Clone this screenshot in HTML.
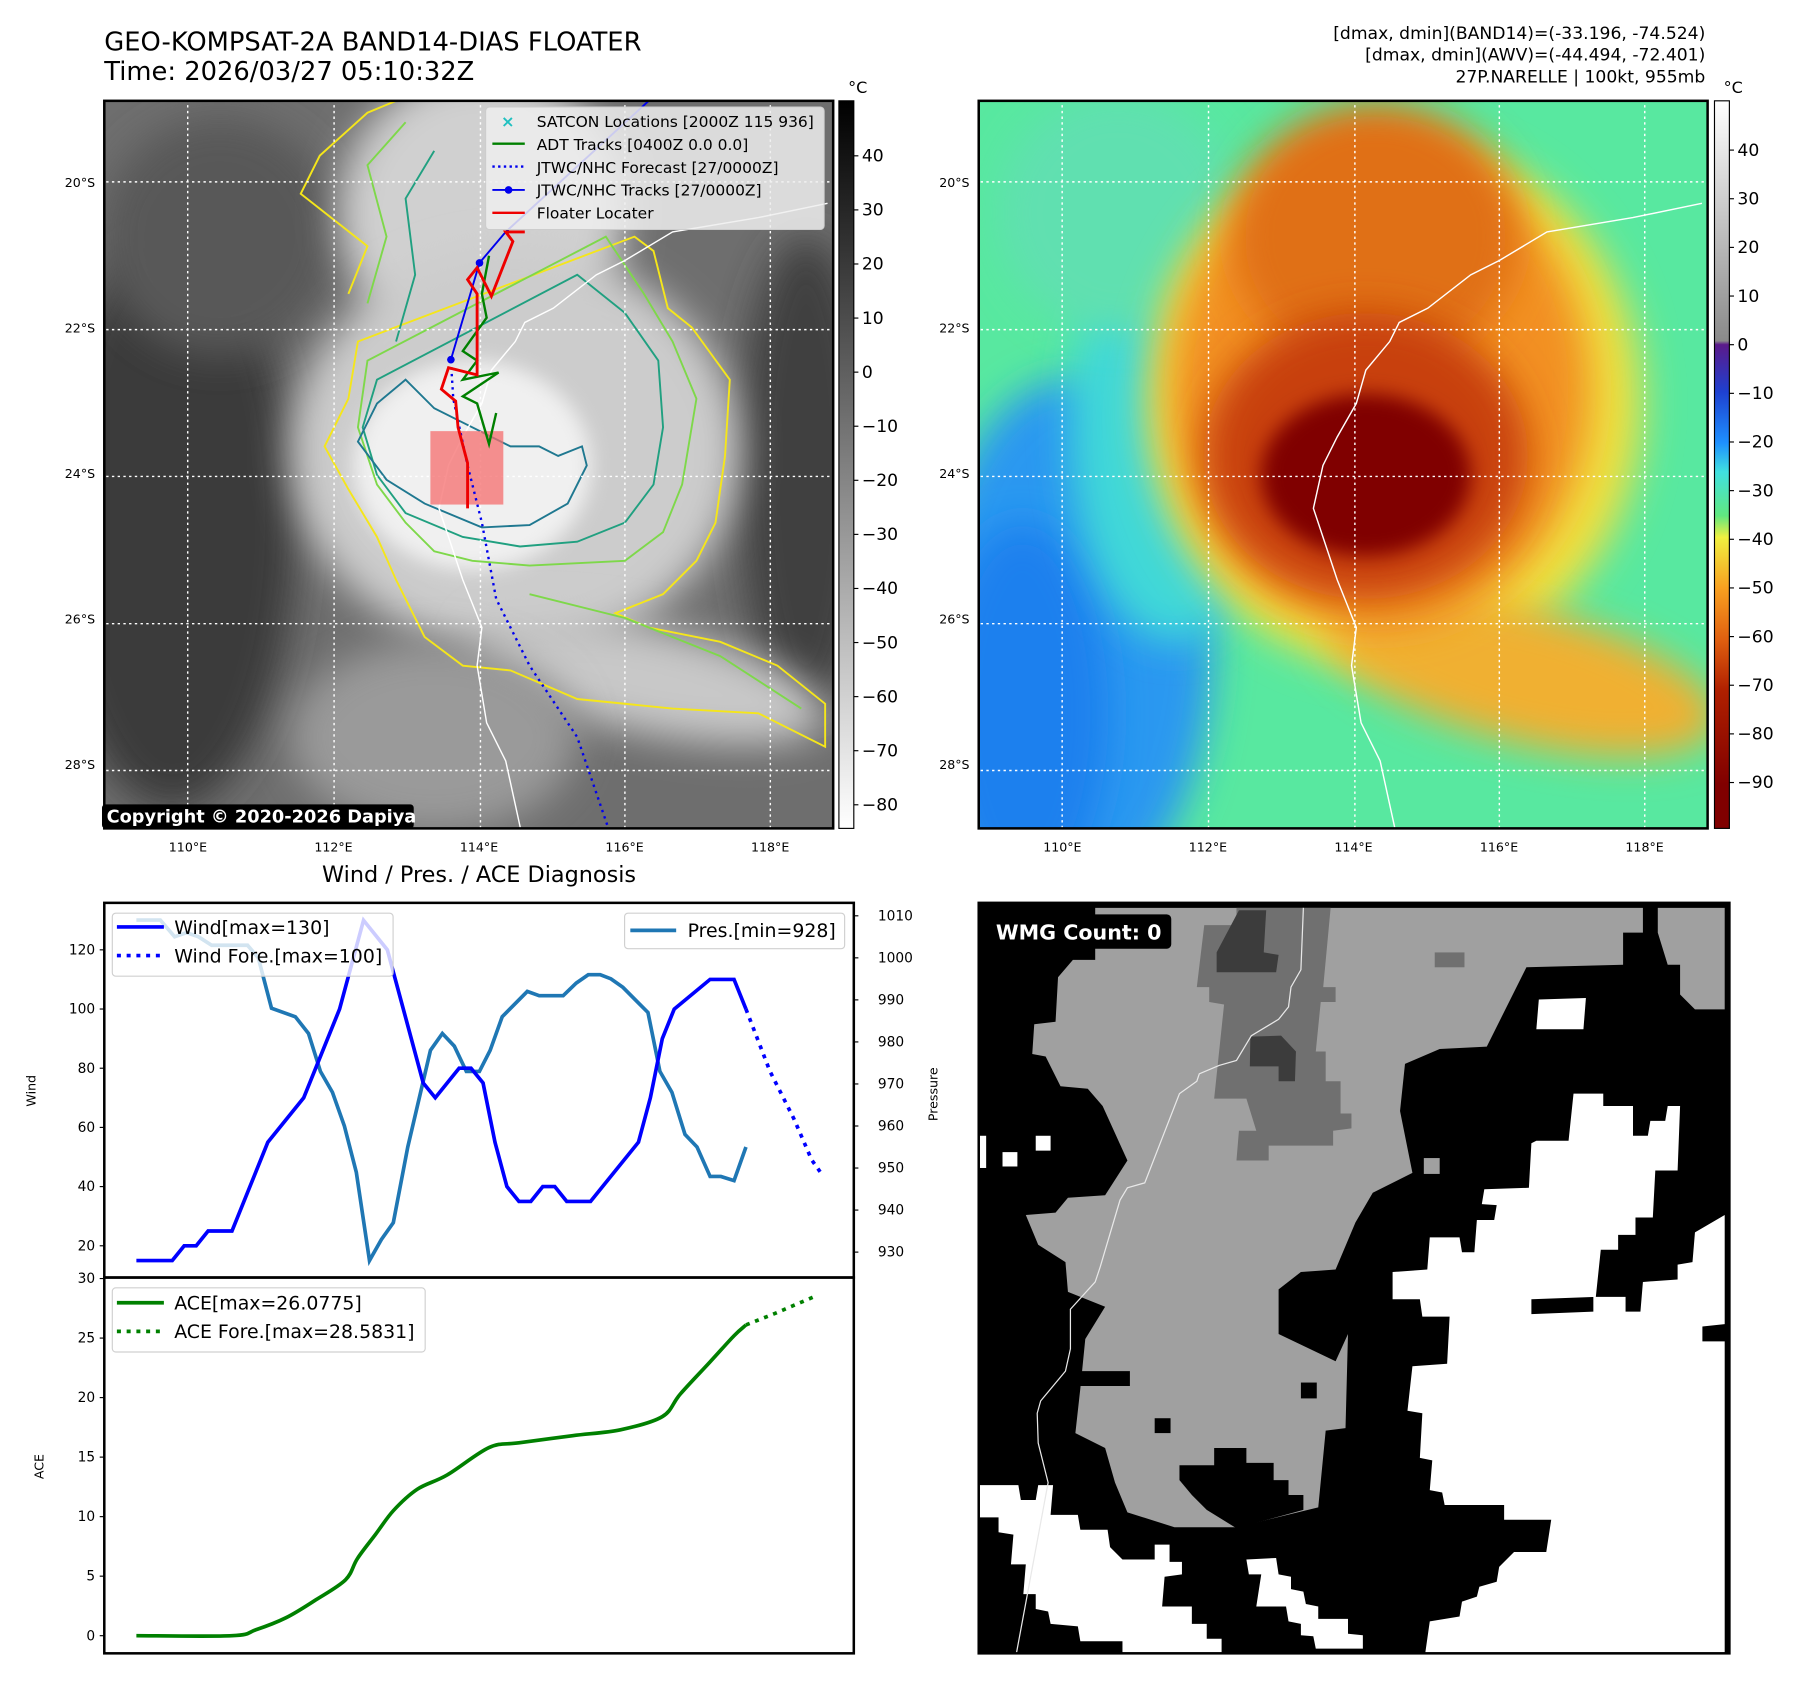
<!DOCTYPE html>
<html><head><meta charset="utf-8"><title>GEO-KOMPSAT-2A BAND14 Floater</title>
<style>
html,body{margin:0;padding:0;background:#fff;}
svg{display:block;font-family:"DejaVu Sans","Liberation Sans",sans-serif;}
</style></head>
<body>
<svg id="fig" width="1797" height="1690" viewBox="0 0 1568 1475" preserveAspectRatio="none" xmlns="http://www.w3.org/2000/svg">
<defs>
  <filter id="b20" x="-50%" y="-50%" width="200%" height="200%"><feGaussianBlur stdDeviation="20"/></filter>
  <filter id="b40" x="-50%" y="-50%" width="200%" height="200%"><feGaussianBlur stdDeviation="40"/></filter>
  <clipPath id="clipL"><rect x="91" y="88" width="636" height="635"/></clipPath>
  <clipPath id="clipR"><rect x="854" y="88" width="636" height="635"/></clipPath>
  <clipPath id="clipB"><rect x="854" y="788" width="655" height="655"/></clipPath>
  <linearGradient id="cbL" x1="0" y1="0" x2="0" y2="1">
    <stop offset="0" stop-color="#000"/><stop offset="1" stop-color="#fff"/>
  </linearGradient>
  <linearGradient id="cbR" x1="0" y1="0" x2="0" y2="1">
    <stop offset="0" stop-color="#ffffff"/><stop offset="0.33" stop-color="#8a8a8a"/>
    <stop offset="0.335" stop-color="#5b1a8a"/><stop offset="0.4" stop-color="#1e40d0"/>
    <stop offset="0.47" stop-color="#1e90ff"/><stop offset="0.51" stop-color="#40e0e0"/>
    <stop offset="0.57" stop-color="#60e880"/><stop offset="0.6" stop-color="#f0f040"/>
    <stop offset="0.67" stop-color="#f8a020"/><stop offset="0.74" stop-color="#e06010"/>
    <stop offset="0.81" stop-color="#b02000"/><stop offset="0.94" stop-color="#800000"/>
    <stop offset="1" stop-color="#800000"/>
  </linearGradient>
</defs>

<text x="91" y="44" font-size="22.5">GEO-KOMPSAT-2A BAND14-DIAS FLOATER</text>
<text x="91" y="70" font-size="22.5">Time: 2026/03/27 05:10:32Z</text>
<g font-size="15" text-anchor="end">
  <text x="1488" y="34">[dmax, dmin](BAND14)=(-33.196, -74.524)</text>
  <text x="1488" y="53">[dmax, dmin](AWV)=(-44.494, -72.401)</text>
  <text x="1488" y="72">27P.NARELLE | 100kt, 955mb</text>
</g>

<!-- LEFT MAP -->
<g clip-path="url(#clipL)">
  <rect x="91" y="88" width="636" height="635" fill="#6e6e6e"/>
  <g transform="translate(91,88) scale(0.416) translate(-8,-15)">
    <ellipse cx="150" cy="900" rx="260" ry="600" fill="#3a3a3a" filter="url(#b40)"/>
    <ellipse cx="1480" cy="800" rx="140" ry="500" fill="#404040" filter="url(#b40)"/>
    <ellipse cx="250" cy="300" rx="250" ry="250" fill="#585858" filter="url(#b40)"/>
    <ellipse cx="800" cy="250" rx="300" ry="300" fill="#d0d0d0" filter="url(#b40)"/>
    <ellipse cx="870" cy="750" rx="470" ry="420" fill="#cccccc" filter="url(#b40)"/>
    <ellipse cx="1150" cy="1230" rx="380" ry="110" fill="#c8c8c8" filter="url(#b40)" transform="rotate(12 1150 1230)"/>
    <ellipse cx="780" cy="780" rx="250" ry="220" fill="#f0f0f0" filter="url(#b20)"/>
    <ellipse cx="700" cy="1350" rx="300" ry="200" fill="#9a9a9a" filter="url(#b40)"/>
    <path d="M520,420 L560,320 L420,210 L460,130 L560,40 L620,15 M1120,300 L1160,330 L1190,450 L1240,490 L1320,600 L1310,760 L1290,900 L1250,980 L1180,1050 L1080,1090 L1150,1120 L1300,1150 L1420,1200 L1520,1280 L1520,1370 L1380,1300 L1200,1290 L1000,1270 L860,1210 L760,1200 L680,1140 L620,1020 L580,930 L520,830 L470,740 L520,640 L540,520 Z" fill="none" stroke="#f5e61a" stroke-width="4"/>
    <path d="M560,440 L600,300 L560,150 L640,60 M1060,300 L1140,420 L1200,520 L1250,640 L1220,820 L1180,920 L1100,980 L900,990 L780,980 L700,960 L640,900 L580,820 L540,700 L560,560 Z M900,1050 L1100,1100 L1300,1180 L1470,1290" fill="none" stroke="#7ed84a" stroke-width="4"/>
    <path d="M620,520 L660,380 L640,220 L700,120 M1000,380 L1100,460 L1170,560 L1180,700 L1160,820 L1100,900 L1000,940 L880,950 L760,930 L640,880 L580,800 L550,700 L580,600 Z" fill="none" stroke="#20a080" stroke-width="4"/>
    <path d="M640,600 L580,650 L540,730 L600,810 L680,860 L800,910 L900,905 L980,860 L1020,780 L1010,740 L960,760 L920,740 L860,740 L820,720 L760,690 L700,660 Z" fill="none" stroke="#1f7890" stroke-width="4"/>
    <g stroke="#fff" stroke-width="3" stroke-dasharray="5,7">
      <line x1="183" y1="0" x2="183" y2="1570"/><line x1="490" y1="0" x2="490" y2="1570"/>
      <line x1="797" y1="0" x2="797" y2="1570"/><line x1="1100" y1="0" x2="1100" y2="1570"/>
      <line x1="1405" y1="0" x2="1405" y2="1570"/>
      <line x1="0" y1="185" x2="1540" y2="185"/><line x1="0" y1="495" x2="1540" y2="495"/>
      <line x1="0" y1="803" x2="1540" y2="803"/><line x1="0" y1="1112" x2="1540" y2="1112"/>
      <line x1="0" y1="1420" x2="1540" y2="1420"/>
    </g>
    <polyline points="1525,230 1380,260 1200,290 1100,350 1040,380 950,450 890,480 870,520 820,580 800,650 760,720 730,780 710,870 740,960 760,1020 800,1120 790,1200 810,1320 850,1400 885,1560" fill="none" stroke="#fff" stroke-width="3"/>
    <rect x="692" y="708" width="153" height="154" fill="rgba(245,110,110,0.75)"/>
    <polyline points="735,560 740,640 770,780 800,900 830,1060 900,1200 1000,1350 1070,1555" fill="none" stroke="#0000ee" stroke-width="5" stroke-dasharray="5,9"/>
    <polyline points="735,558 795,355 850,290 1150,15" fill="none" stroke="#0000ee" stroke-width="4"/>
    <circle cx="735" cy="558" r="8" fill="#0000ee"/><circle cx="795" cy="355" r="8" fill="#0000ee"/>
    <polyline points="815,340 800,420 810,470 760,540 790,560 760,600 835,585 760,635 790,650 815,735 830,670" fill="none" stroke="#008000" stroke-width="5"/>
    <polyline points="890,290 850,290 865,310 820,425 790,365 770,390 790,420 790,590 730,575 715,620 745,645 750,700 770,775 770,870" fill="none" stroke="#ee0000" stroke-width="6"/>
    <g>
      <rect x="808" y="28" width="710" height="257" rx="8" fill="#eeeeee" fill-opacity="0.85" stroke="#ccc" stroke-width="2"/>
      <text x="840" y="70" font-size="34" fill="#20c0c0" font-weight="bold">×</text>
      <line x1="822" y1="105" x2="890" y2="105" stroke="#008000" stroke-width="5"/>
      <line x1="822" y1="153" x2="890" y2="153" stroke="#0000ee" stroke-width="5" stroke-dasharray="5,7"/>
      <line x1="822" y1="202" x2="890" y2="202" stroke="#0000ee" stroke-width="4"/><circle cx="856" cy="202" r="8" fill="#0000ee"/>
      <line x1="822" y1="250" x2="890" y2="250" stroke="#ee0000" stroke-width="5"/>
      <g font-size="32.5" fill="#000">
        <text x="915" y="70">SATCON Locations [2000Z 115 936]</text>
        <text x="915" y="118">ADT Tracks [0400Z 0.0 0.0]</text>
        <text x="915" y="166">JTWC/NHC Forecast [27/0000Z]</text>
        <text x="915" y="214">JTWC/NHC Tracks [27/0000Z]</text>
        <text x="915" y="262">Floater Locater</text>
      </g>
    </g>
  </g>
</g>
<rect x="91" y="88" width="636" height="635" fill="none" stroke="#000" stroke-width="2.2"/>
<g>
  <rect x="89" y="702" width="272" height="21" rx="3" fill="#000"/>
  <text x="93" y="718" font-size="15.5" font-weight="bold" fill="#fff">Copyright © 2020-2026 Dapiya</text>
</g>

<g>
  <rect x="732" y="88" width="13" height="635" fill="url(#cbL)" stroke="#000" stroke-width="1"/>
  <text x="740" y="81" font-size="14">°C</text>
  <g id="cbLticks" font-size="15"></g>
</g>

<!-- RIGHT MAP -->
<g clip-path="url(#clipR)">
  <rect x="854" y="88" width="636" height="635" fill="#58e8a0"/>
  <g transform="translate(854,88) scale(0.416) translate(-8,-15)">
    <ellipse cx="200" cy="1150" rx="300" ry="550" fill="#2c98f0" filter="url(#b40)"/>
    <ellipse cx="100" cy="1300" rx="180" ry="400" fill="#1a80ee" filter="url(#b40)"/>
    <ellipse cx="420" cy="700" rx="220" ry="450" fill="#40d8d8" filter="url(#b40)"/>
    <ellipse cx="300" cy="250" rx="250" ry="250" fill="#60e0b0" filter="url(#b40)"/>
    <ellipse cx="880" cy="650" rx="520" ry="560" fill="#f0e040" filter="url(#b40)"/>
    <ellipse cx="1150" cy="1220" rx="420" ry="140" fill="#f0b030" filter="url(#b40)" transform="rotate(14 1150 1220)"/>
    <ellipse cx="850" cy="620" rx="440" ry="500" fill="#f29020" filter="url(#b40)"/>
    <ellipse cx="840" cy="300" rx="300" ry="280" fill="#e07018" filter="url(#b40)"/>
    <ellipse cx="820" cy="760" rx="340" ry="300" fill="#c84010" filter="url(#b40)"/>
    <ellipse cx="820" cy="800" rx="220" ry="170" fill="#800000" filter="url(#b20)"/>
    <g stroke="#fff" stroke-width="3" stroke-dasharray="5,7">
      <line x1="183" y1="0" x2="183" y2="1570"/><line x1="490" y1="0" x2="490" y2="1570"/>
      <line x1="797" y1="0" x2="797" y2="1570"/><line x1="1100" y1="0" x2="1100" y2="1570"/>
      <line x1="1405" y1="0" x2="1405" y2="1570"/>
      <line x1="0" y1="185" x2="1540" y2="185"/><line x1="0" y1="495" x2="1540" y2="495"/>
      <line x1="0" y1="803" x2="1540" y2="803"/><line x1="0" y1="1112" x2="1540" y2="1112"/>
      <line x1="0" y1="1420" x2="1540" y2="1420"/>
    </g>
    <polyline points="1525,230 1380,260 1200,290 1100,350 1040,380 950,450 890,480 870,520 820,580 800,650 760,720 730,780 710,870 740,960 760,1020 800,1120 790,1200 810,1320 850,1400 885,1560" fill="none" stroke="#fff" stroke-width="3"/>
  </g>
</g>
<rect x="854" y="88" width="636" height="635" fill="none" stroke="#000" stroke-width="2.2"/>
<g>
  <rect x="1496" y="88" width="13" height="635" fill="url(#cbR)" stroke="#000" stroke-width="1"/>
  <text x="1504" y="81" font-size="14">°C</text>
  <g id="cbRticks" font-size="15"></g>
</g>

<g id="geoLabels" font-size="11"></g>

<text x="418" y="770" font-size="19.5" text-anchor="middle">Wind / Pres. / ACE Diagnosis</text>
<g id="windChart"></g>
<g id="aceChart"></g>

<!-- BOTTOM RIGHT MASK -->
<g clip-path="url(#clipB)">
  <rect x="854" y="788" width="655" height="655" fill="#000"/>
  <g transform="translate(854,788) scale(0.4325)">
    <polygon fill="#a0a0a0" points="235,10 1340,10 1340,60 1300,60 1300,125 1105,130 1060,220 1025,290 930,295 860,325 850,420 875,545 795,585 760,645 720,740 650,745 605,780 605,870 720,925 745,870 740,1060 700,1065 685,1220 520,1260 395,1260 300,1230 275,1170 255,1100 195,1070 205,980 215,880 255,815 180,785 175,725 120,690 95,630 155,625 180,595 255,590 300,520 275,465 250,410 220,375 165,370 135,310 108,305 112,245 155,240 160,150 190,115 235,115"/>
    <polygon fill="#a0a0a0" points="1370,10 1505,10 1505,215 1445,215 1415,185 1415,125 1390,125 1370,60"/>
    <rect x="920" y="100" width="60" height="30" fill="#707070"/>
    <rect x="898" y="515" width="32" height="32" fill="#a0a0a0"/>
    <polygon fill="#000" points="205,945 305,945 305,975 205,975"/>
    <rect x="650" y="968" width="32" height="32" fill="#000"/>
    <rect x="355" y="1040" width="32" height="30" fill="#000"/>
    <polygon fill="#000" points="405,1135 475,1135 475,1100 540,1100 540,1130 595,1130 595,1165 625,1165 625,1195 655,1195 655,1225 520,1262 460,1225 430,1195 405,1165"/>
    <polygon fill="#707070" points="455,45 520,45 520,10 710,10 695,170 720,170 720,200 690,200 680,300 700,300 700,360 730,360 730,425 752,425 752,455 715,460 715,490 585,490 585,520 520,520 525,460 560,460 540,395 475,395 485,300 495,205 465,200 465,170 440,170"/>
    <polygon fill="#3c3c3c" points="480,140 600,140 605,105 575,100 580,15 525,15 480,100"/>
    <polygon fill="#3c3c3c" points="548,270 610,268 640,300 638,360 605,360 605,330 547,330"/>
    <polygon fill="#fff" points="1200,385 1260,385 1260,410 1320,410 1320,470 1350,470 1355,440 1385,440 1390,410 1415,410 1410,540 1365,540 1360,635 1325,635 1325,670 1290,670 1290,700 1255,700 1245,795 1115,800 1115,830 1240,825 1240,795 1305,795 1305,825 1335,825 1340,765 1410,760 1410,730 1440,725 1445,665 1505,630 1505,850 1460,855 1460,885 1505,885 1505,1520 900,1520 910,1450 970,1440 975,1410 1005,1400 1010,1380 1045,1370 1050,1340 1080,1310 1145,1310 1155,1245 1060,1245 1060,1215 940,1215 935,1190 910,1185 915,1125 890,1120 895,1030 865,1025 875,935 945,930 950,835 895,835 890,800 835,800 835,745 905,740 910,675 970,675 975,705 1000,705 1005,640 1040,640 1045,610 1015,608 1020,578 1110,575 1115,485 1125,480 1190,480"/>
    <polygon fill="#fff" points="1130,195 1225,192 1220,255 1125,255"/>
    <polygon fill="#fff" points="0,1175 80,1175 85,1205 115,1205 120,1175 150,1175 145,1235 200,1235 205,1265 260,1265 265,1300 290,1325 355,1325 355,1295 385,1295 385,1330 410,1330 410,1355 375,1360 370,1420 430,1420 430,1455 460,1455 460,1485 490,1485 490,1515 290,1520 290,1490 205,1490 200,1460 145,1455 140,1430 115,1425 115,1395 90,1395 95,1335 65,1335 70,1275 40,1270 40,1240 0,1240"/>
    <polygon fill="#fff" points="540,1325 600,1322 605,1355 630,1360 630,1385 655,1390 660,1415 685,1420 685,1445 745,1445 745,1475 775,1478 775,1505 680,1505 675,1480 650,1478 650,1455 625,1450 620,1420 560,1420 570,1355 545,1355"/>
    <rect x="115" y="470" width="30" height="30" fill="#fff"/>
    <rect x="48" y="503" width="30" height="29" fill="#fff"/>
    <rect x="0" y="470" width="15" height="65" fill="#fff"/>
    <polyline points="655,10 650,135 630,170 625,210 605,235 550,268 520,318 485,328 445,345 440,360 405,385 335,565 300,575 285,600 245,735 235,765 185,820 185,900 175,945 125,1005 118,1030 120,1090 140,1170 75,1520" fill="none" stroke="#e8e8e8" stroke-width="2.5"/>
  </g>
</g>
<rect x="854" y="788" width="655" height="655" fill="none" stroke="#000" stroke-width="2.2"/>
<g>
  <rect x="862" y="798" width="160" height="30" rx="4" fill="#000"/>
  <text x="869" y="820" font-size="18" font-weight="bold" fill="#fff">WMG Count: 0</text>
</g>
</svg>

<script>
const windT = [0,3,4,5,6,8,11,14,17,19,21,24,25,27,28,29,30,31,32,33,34,35,36,38,42,43,44,45,48,50,51];
const windV = [15,15,20,20,25,25,55,70,100,130,120,75,70,80,80,75,55,40,35,35,40,40,35,35,55,70,90,100,110,110,100];
const windForeT = [51,53,55,56.5,57.2];
const windForeV = [100,79,63,49,45];
const presT = [0,2,3.2,4.2,5.2,6.3,9.3,10.2,11.3,13.3,14.4,15.4,16.4,17.4,18.4,19.5,20.5,21.5,22.7,24.6,25.6,26.6,27.6,28.7,29.6,30.6,32.7,33.7,35.7,36.8,37.8,38.8,39.7,40.7,42.8,43.8,44.8,45.9,46.9,48,48.9,50,51];
const presV = [1009,1009,1005,1006,1005,1003,1003,1000,988,986,982,973,968,960,949,928,933,937,955,978,982,979,973,973,978,986,992,991,991,994,996,996,995,993,987,973,968,958,955,948,948,947,955];
const aceT = [0,8,10,12.5,15,17.5,18.5,20,21.5,23.5,26,29.5,32,36.5,40.5,44,45.5,48,50,51];
const aceV = [0,0,0.5,1.5,3,4.7,6.5,8.5,10.5,12.3,13.5,15.8,16.2,16.8,17.3,18.4,20.3,23,25.2,26.1];
const aceForeT = [51,53.5,57];
const aceForeV = [26.1,27.1,28.6];
const windTicks = [20,40,60,80,100,120];
const presTicks = [930,940,950,960,970,980,990,1000,1010];
const aceTicks = [0,5,10,15,20,25,30];
const cbLTicks = [40,30,20,10,0,-10,-20,-30,-40,-50,-60,-70,-80];
const cbRTicks = [40,30,20,10,0,-10,-20,-30,-40,-50,-60,-70,-80,-90];
const latLabels = ['20°S','22°S','24°S','26°S','28°S'];
const lonLabels = ['110°E','112°E','114°E','116°E','118°E'];

const NS = 'http://www.w3.org/2000/svg';
function mk(tag, attrs, parent, txt){ const e=document.createElementNS(NS,tag); for(const k in attrs) e.setAttribute(k,attrs[k]); if(txt!==undefined) e.textContent=txt; parent.appendChild(e); return e; }

const xS = t => 119 + t*10.43;
const yW = v => 829.0 - (v-120)*2.583;
const yP = p => 799.3 - (p-1010)*3.669;
const yA = a => 1427.6 - a*10.39;
const pts = (T,V,fy) => T.map((t,i)=>xS(t).toFixed(1)+','+fy(V[i]).toFixed(1)).join(' ');
function smooth(T,V,fy){
  const P=T.map((t,i)=>[xS(t),fy(V[i])]);
  let d='M'+P[0][0].toFixed(1)+','+P[0][1].toFixed(1);
  for(let i=0; P.length-1>i; i++){
    const p0=P[Math.max(0,i-1)],p1=P[i],p2=P[i+1],p3=P[Math.min(P.length-1,i+2)];
    const c1=[p1[0]+(p2[0]-p0[0])/6,p1[1]+(p2[1]-p0[1])/6];
    const c2=[p2[0]-(p3[0]-p1[0])/6,p2[1]-(p3[1]-p1[1])/6];
    d+=' C'+c1.map(v=>v.toFixed(1)).join(',')+' '+c2.map(v=>v.toFixed(1)).join(',')+' '+p2.map(v=>v.toFixed(1)).join(',');
  }
  return d;
}
const neg = v => (0>v ? '\u2212'+(-v) : String(v));

const wc = document.getElementById('windChart');
mk('rect',{x:91,y:788,width:654,height:327,fill:'#fff'},wc);
const pl = mk('polyline',{points:pts(presT,presV,yP),fill:'none',stroke:'#1f77b4','stroke-width':3.2},wc);


const wl = mk('polyline',{points:pts(windT,windV,yW),fill:'none',stroke:'#0000ff','stroke-width':3.2},wc);


const wf = mk('polyline',{points:pts(windForeT,windForeV,yW),fill:'none',stroke:'#0000ff','stroke-width':3.2,'stroke-dasharray':'3.5,5'},wc);


windTicks.forEach(v=>{ const y=yW(v); mk('line',{x1:87,y1:y,x2:91,y2:y,stroke:'#000'},wc); const t=mk('text',{x:83,y:y+4,'font-size':12,'text-anchor':'end'},wc,String(v));   });
presTicks.forEach(v=>{ const y=yP(v); mk('line',{x1:745,y1:y,x2:749,y2:y,stroke:'#000'},wc); const t=mk('text',{x:766,y:y+4,'font-size':12},wc,String(v));   });
mk('text',{x:31,y:952,'font-size':11,'text-anchor':'middle',transform:'rotate(-90 31 952)'},wc,'Wind');
mk('text',{x:818,y:955,'font-size':11,'text-anchor':'middle',transform:'rotate(-90 818 955)'},wc,'Pressure');
const lg1 = mk('g',{},wc);


mk('rect',{x:98,y:797,width:245,height:55,rx:3,fill:'#fff','fill-opacity':0.8,stroke:'#d0d0d0'},lg1);
mk('line',{x1:102,y1:809,x2:143,y2:809,stroke:'#0000ff','stroke-width':3.2},lg1);
mk('line',{x1:102,y1:834,x2:143,y2:834,stroke:'#0000ff','stroke-width':3.2,'stroke-dasharray':'3.5,5'},lg1);
mk('text',{x:152,y:815,'font-size':16.5},lg1,'Wind[max=130]');
mk('text',{x:152,y:840,'font-size':16.5},lg1,'Wind Fore.[max=100]');
const lg2 = mk('g',{},wc);


mk('rect',{x:545,y:797,width:192,height:31,rx:3,fill:'#fff','fill-opacity':0.8,stroke:'#d0d0d0'},lg2);
mk('line',{x1:550,y1:812,x2:590,y2:812,stroke:'#1f77b4','stroke-width':3.2},lg2);
mk('text',{x:600,y:818,'font-size':16.5},lg2,'Pres.[min=928]');
mk('rect',{x:91,y:788,width:654,height:327,fill:'none',stroke:'#000','stroke-width':2.2},wc);

const ac = document.getElementById('aceChart');
const al = mk('path',{d:smooth(aceT,aceV,yA),fill:'none',stroke:'#008000','stroke-width':3.2,'stroke-linejoin':'round'},ac);


const af = mk('polyline',{points:pts(aceForeT,aceForeV,yA),fill:'none',stroke:'#008000','stroke-width':3.2,'stroke-dasharray':'3.5,5'},ac);


aceTicks.forEach(v=>{ const y=yA(v); mk('line',{x1:87,y1:y,x2:91,y2:y,stroke:'#000'},ac); const t=mk('text',{x:83,y:y+4,'font-size':12,'text-anchor':'end'},ac,String(v));   });
mk('text',{x:38,y:1280,'font-size':11,'text-anchor':'middle',transform:'rotate(-90 38 1280)'},ac,'ACE');
const lg3 = mk('g',{},ac);


mk('rect',{x:98,y:1124,width:273,height:56,rx:3,fill:'#fff','fill-opacity':0.8,stroke:'#d0d0d0'},lg3);
mk('line',{x1:102,y1:1137,x2:143,y2:1137,stroke:'#008000','stroke-width':3.2},lg3);
mk('line',{x1:102,y1:1162,x2:143,y2:1162,stroke:'#008000','stroke-width':3.2,'stroke-dasharray':'3.5,5'},lg3);
mk('text',{x:152,y:1143,'font-size':16.5},lg3,'ACE[max=26.0775]');
mk('text',{x:152,y:1168,'font-size':16.5},lg3,'ACE Fore.[max=28.5831]');
mk('rect',{x:91,y:1115,width:654,height:328,fill:'none',stroke:'#000','stroke-width':2.2},ac);

const cl = document.getElementById('cbLticks');
cbLTicks.forEach(v=>{ const y=136+(40-v)*4.72; mk('line',{x1:745,y1:y,x2:749,y2:y,stroke:'#000'},cl); mk('text',{x:752,y:y+5},cl,neg(v)); });
const cr = document.getElementById('cbRticks');
cbRTicks.forEach(v=>{ const y=131+(40-v)*4.246; mk('line',{x1:1509,y1:y,x2:1513,y2:y,stroke:'#000'},cr); mk('text',{x:1516,y:y+5},cr,neg(v)); });

const gl = document.getElementById('geoLabels');
[0,763].forEach(off=>{
  latLabels.forEach((s,i)=>{ const t=mk('text',{x:83+off,y:163+i*127,'text-anchor':'end'},gl,s);   });
  lonLabels.forEach((s,i)=>{ const t=mk('text',{x:164+off+i*127,y:743,'text-anchor':'middle'},gl,s);   });
});
</script>
</body></html>
